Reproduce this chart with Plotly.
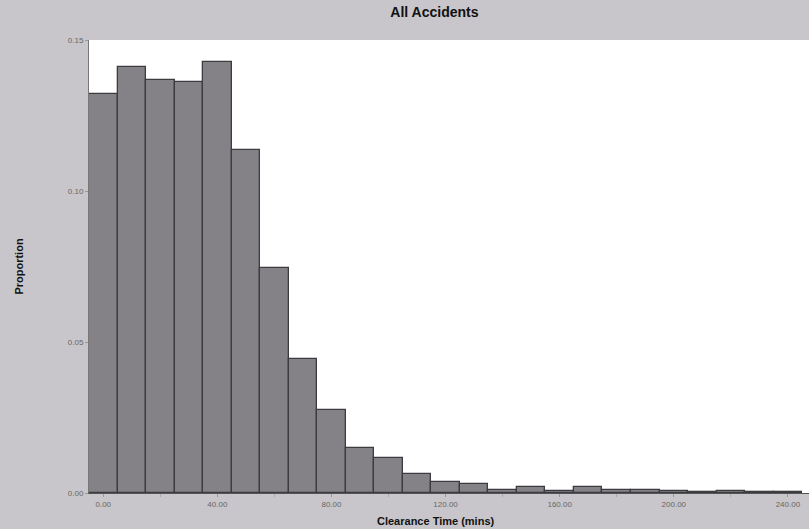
import plotly.graph_objects as go

bin_centers = [0, 10, 20, 30, 40, 50, 60, 70, 80, 90, 100, 110, 120,
               130, 140, 150, 160, 170, 180, 190, 200, 210, 220, 230, 240]
proportion = [0.1321, 0.1411, 0.1368, 0.1361, 0.1427, 0.1136, 0.0745, 0.0444,
              0.0275, 0.0149, 0.0116, 0.0063, 0.0037, 0.0031, 0.0010, 0.0019,
              0.0008, 0.0019, 0.0009, 0.0010, 0.0008, 0.0004, 0.0007, 0.0003,
              0.0003]
x_ticks = [0, 40, 80, 120, 160, 200, 240]
x_tick_labels = ["0.00", "40.00", "80.00", "120.00", "160.00", "200.00", "240.00"]
y_ticks = [0.0, 0.05, 0.10, 0.15]
y_tick_labels = ["0.00", "0.05", "0.10", "0.15"]

fig = go.Figure(go.Bar(
    x=bin_centers, y=proportion, width=10,
    marker=dict(color="#848287", line=dict(color="#3c3c40", width=1.3)),
))

fig.update_layout(
    width=809, height=529,
    margin=dict(l=89, r=0, t=40, b=36),
    paper_bgcolor="#c8c6ca",
    plot_bgcolor="#ffffff",
    showlegend=False,
    bargap=0,
    font=dict(family="Liberation Sans, Arial, sans-serif", color="#222"),
    title=dict(text="<b>All Accidents</b>", x=0.537, xanchor="center",
               y=0.977, yanchor="middle", font=dict(size=14, color="#111")),
    annotations=[dict(
        text="<b>Clearance Time (mins)</b>", xref="paper", yref="paper",
        x=0.482, y=-0.062, xanchor="center", yanchor="middle",
        showarrow=False, font=dict(size=11, color="#111"),
    )],
)
fig.update_xaxes(
    range=[-5, 247.4], tickvals=x_ticks, ticktext=x_tick_labels,
    ticks="outside", ticklen=3, tickcolor="#999",
    tickfont=dict(size=8, color="#666"),
    showgrid=False, zeroline=False, showline=True, linecolor="#555",
    minor=dict(tickvals=[20, 60, 100, 140, 180, 220], ticks="outside",
               ticklen=3, tickcolor="#aaa"),
)
fig.update_yaxes(
    range=[0, 0.15], tickvals=y_ticks, ticktext=y_tick_labels,
    ticks="outside", ticklen=3, tickcolor="#999",
    tickfont=dict(size=8, color="#666"),
    showgrid=False, zeroline=False, showline=True, linecolor="#777",
    title=dict(text="<b>Proportion</b>", standoff=41,
               font=dict(size=11, color="#111")),
)

fig.write_html("out.html")
